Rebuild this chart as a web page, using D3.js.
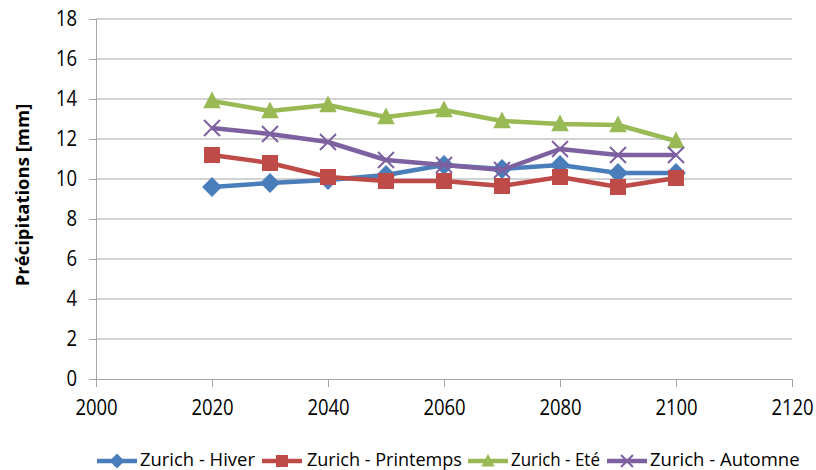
<!DOCTYPE html>
<html>
<head>
<meta charset="utf-8">
<script src="https://cdn.jsdelivr.net/npm/d3@7"></script>
<style>
  html, body { margin: 0; padding: 0; background: #fff; }
  svg { display: block; }
  text { font-family: "Open Sans", "Noto Sans", sans-serif; fill: #000; }
</style>
</head>
<body>
<svg id="chart" width="816" height="470"></svg>
<script>
// Projected seasonal precipitation for Zurich
const years = [2020, 2030, 2040, 2050, 2060, 2070, 2080, 2090, 2100];
const hiver      = [9.6, 9.8, 9.95, 10.2, 10.7, 10.5, 10.7, 10.3, 10.3];
const printemps  = [11.2, 10.8, 10.1, 9.9, 9.9, 9.65, 10.1, 9.6, 10.05];
const ete        = [13.9, 13.4, 13.7, 13.1, 13.45, 12.9, 12.75, 12.7, 11.9];
const automne    = [12.55, 12.25, 11.85, 10.95, 10.7, 10.45, 11.5, 11.2, 11.2];
const seriesNames = ["Zurich - Hiver", "Zurich - Printemps", "Zurich - Eté", "Zurich - Automne"];
const xTicks = [2000, 2020, 2040, 2060, 2080, 2100, 2120];
const yTicks = [0, 2, 4, 6, 8, 10, 12, 14, 16, 18];
const yTitle = "Précipitations [mm]";

const series = [
  { name: seriesNames[0], values: hiver,     color: "#4A7EBB", marker: "diamond" },
  { name: seriesNames[1], values: printemps, color: "#BE4B48", marker: "square" },
  { name: seriesNames[2], values: ete,       color: "#98B954", marker: "triangle" },
  { name: seriesNames[3], values: automne,   color: "#7D60A0", marker: "x" }
];

const svg = d3.select("#chart");
const plot = { left: 96, right: 792, top: 19, bottom: 379 };

const x = d3.scaleLinear().domain([2000, 2120]).range([plot.left, plot.right]);
const y = d3.scaleLinear().domain([0, 18]).range([plot.bottom, plot.top]);

// Squeeze a text horizontally (about its x anchor) so it fits the given width
function fitTo(sel, width) {
  sel.each(function () {
    const t = d3.select(this);
    const w = this.getComputedTextLength();
    const k = Math.max(0.8, Math.min(1, width / w));
    const ax = +t.attr("x") || 0;
    t.attr("transform", `translate(${ax},0) scale(${k},1) translate(${-ax},0)`);
  });
}
// Squeeze a text horizontally by a fixed factor (about its x anchor)
function squeezeBy(sel, k) {
  sel.each(function () {
    const t = d3.select(this);
    const ax = +t.attr("x") || 0;
    t.attr("transform", `translate(${ax},0) scale(${k},1) translate(${-ax},0)`);
  });
}

// Horizontal gridlines
svg.append("g")
  .selectAll("line")
  .data(yTicks.filter(t => t > 0))
  .join("line")
  .attr("x1", plot.left).attr("x2", plot.right)
  .attr("y1", d => y(d)).attr("y2", d => y(d))
  .attr("stroke", "#a6a6a6").attr("stroke-width", 1);

// Y axis
const yAxis = svg.append("g")
  .attr("transform", `translate(${plot.left},0)`)
  .call(d3.axisLeft(y).tickValues(yTicks).tickSize(7).tickPadding(12).tickFormat(d3.format("d")));
yAxis.select(".domain").attr("stroke", "#a6a6a6");
yAxis.selectAll(".tick line").attr("stroke", "#a6a6a6");
yAxis.selectAll(".tick text")
  .attr("font-size", 21).attr("font-family", "Open Sans, sans-serif").attr("fill", "#222")
  .call(squeezeBy, 0.88);

// X axis
const xAxis = svg.append("g")
  .attr("transform", `translate(0,${plot.bottom})`)
  .call(d3.axisBottom(x).tickValues(xTicks).tickSize(8).tickPadding(13).tickFormat(d3.format("d")));
xAxis.select(".domain").attr("stroke", "#a6a6a6");
xAxis.selectAll(".tick line").attr("stroke", "#a6a6a6");
xAxis.selectAll(".tick text")
  .attr("font-size", 21).attr("font-family", "Open Sans, sans-serif").attr("fill", "#222")
  .call(squeezeBy, 0.88);

// Y axis title
svg.append("text")
  .attr("transform", `translate(29,195) rotate(-90)`)
  .attr("text-anchor", "middle")
  .attr("font-size", 18.5).attr("font-weight", "bold")
  .attr("fill", "#111")
  .text(yTitle);

// Marker drawing
function drawMarker(g, type, color, size) {
  const s = size;
  if (type === "diamond") {
    g.append("path").attr("d", `M0,${-s * 0.62}L${s * 0.62},0L0,${s * 0.62}L${-s * 0.62},0Z`).attr("fill", color);
  } else if (type === "square") {
    g.append("rect").attr("x", -s / 2).attr("y", -s / 2).attr("width", s).attr("height", s).attr("fill", color);
  } else if (type === "triangle") {
    g.append("path").attr("d", `M0,${-s * 0.6}L${s * 0.55},${s * 0.45}L${-s * 0.55},${s * 0.45}Z`).attr("fill", color);
  } else if (type === "x") {
    const h = s * 0.5;
    g.append("path").attr("d", `M${-h},${-h}L${h},${h}M${-h},${h}L${h},${-h}`)
      .attr("stroke", color).attr("stroke-width", 2).attr("fill", "none");
  }
}

const line = d3.line().x(d => x(d[0])).y(d => y(d[1]));

series.forEach(s => {
  const pts = years.map((yr, i) => [yr, s.values[i]]);
  const g = svg.append("g");
  g.append("path")
    .attr("d", line(pts))
    .attr("fill", "none")
    .attr("stroke", s.color)
    .attr("stroke-width", 4.5)
    .attr("stroke-linejoin", "round");
  pts.forEach(p => {
    const mg = g.append("g").attr("transform", `translate(${x(p[0])},${y(p[1])})`);
    drawMarker(mg, s.marker, s.color, 16);
  });
});

// Legend
const legendItems = [
  { x: 97,  textX: 140, width: 115 },
  { x: 262, textX: 307, width: 155 },
  { x: 468, textX: 511, width: 89 },
  { x: 607, textX: 650, width: 155 }
];
const legendY = 461;
series.forEach((s, i) => {
  const li = legendItems[i];
  const g = svg.append("g");
  g.append("line")
    .attr("x1", li.x).attr("x2", li.x + 40)
    .attr("y1", legendY).attr("y2", legendY)
    .attr("stroke", s.color).attr("stroke-width", 4.5);
  const mg = g.append("g").attr("transform", `translate(${li.x + 20},${legendY})`);
  drawMarker(mg, s.marker, s.color, 12);
  g.append("text")
    .attr("x", li.textX).attr("y", legendY + 5)
    .attr("font-size", 18.5)
    .attr("fill", "#222")
    .text(s.name)
    .call(fitTo, li.width);
});
</script>
</body>
</html>
